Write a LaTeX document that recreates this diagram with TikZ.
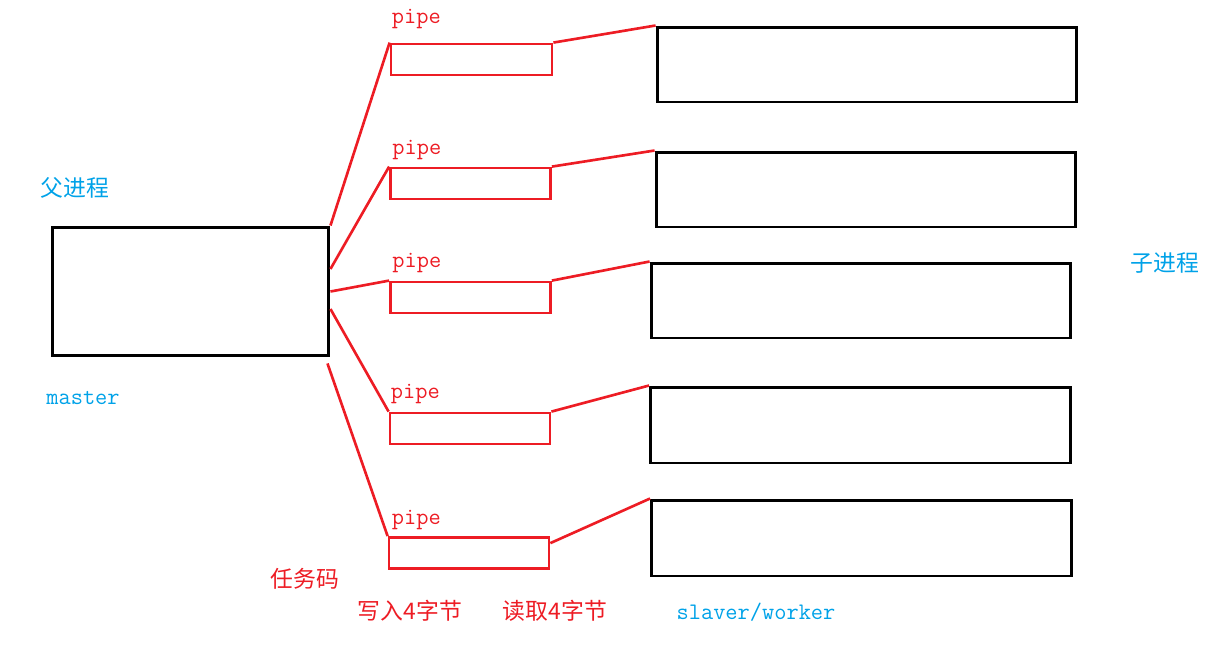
\documentclass[tikz,border=0pt]{standalone}
\usepackage{fontspec}
\newfontfamily\cjkfont{Noto Sans CJK SC}
\usepackage{xcolor}
\usepackage{tikz}
\usetikzlibrary{positioning,calc}
\definecolor{paintred}{RGB}{237,28,36}
\definecolor{paintblue}{RGB}{0,162,232}

\begin{document}
\begin{tikzpicture}[
        x=0.02cm, y=-0.02cm,
        proc/.style={rectangle, draw=black, line width=1.7pt, minimum width=8.4cm, minimum height=1.5cm, inner sep=0pt},
        pipebox/.style={rectangle, draw=paintred, line width=1.6pt, minimum width=3.2cm, minimum height=0.62cm, inner sep=0pt},
        wire/.style={draw=paintred, line width=1.5pt},
        pipelabel/.style={text=paintred, font=\ttfamily\fontsize{13.5}{15}\selectfont, inner sep=0pt},
        redtext/.style={text=paintred, font=\cjkfont\fontsize{13}{15}\selectfont},
        bluetext/.style={text=paintblue, font=\cjkfont\fontsize{13}{15}\selectfont},
        bluemono/.style={text=paintblue, font=\ttfamily\fontsize{13.5}{15}\selectfont}
    ]
    \useasboundingbox (0,0) rectangle (1217,649);

    \node [proc, minimum width=5.54cm, minimum height=2.58cm] (master) at (190.5,291.5) {};

    \node [pipebox, minimum width=3.22cm] (pipe1) at (471.5,59.5) {};
    \node [pipebox] (pipe2) at (470.5,183.5) {};
    \node [pipebox] (pipe3) at (470.5,297.5) {};
    \node [pipebox] (pipe4) at (470,428.5) {};
    \node [pipebox] (pipe5) at (469,553) {};

    \node [proc] (child1) at (867,64.5) {};
    \node [proc] (child2) at (866,189.5) {};
    \node [proc] (child3) at (861,300.5) {};
    \node [proc, minimum height=1.52cm] (child4) at (860.5,425) {};
    \node [proc, minimum height=1.52cm] (child5) at (861.5,538) {};

    \node [pipelabel, above right=0.26cm and 0.04cm of pipe1.north west] (lbl1) {pipe};
    \node [pipelabel, above right=0.12cm and 0.06cm of pipe2.north west] (lbl2) {pipe};
    \node [pipelabel, above right=0.14cm and 0.06cm of pipe3.north west] (lbl3) {pipe};
    \node [pipelabel, above right=0.14cm and 0.04cm of pipe4.north west] (lbl4) {pipe};
    \node [pipelabel, above right=0.12cm and 0.08cm of pipe5.north west] (lbl5) {pipe};

    \node [bluetext] (parent) at (75,188) {父进程};
    \node [bluemono] (mastername) at (83,398) {master};
    \node [bluetext] (children) at (1165,263) {子进程};
    \node [redtext] (taskcode) at (305,579) {任务码};
    \node [redtext] (write) at (410,611) {写入4字节};
    \node [redtext] (read) at (555,611) {读取4字节};
    \node [bluemono] (workername) at (756,612) {slaver/worker};

    \path [wire] (master.north east) -- (pipe1.north west);
    \path [wire] ([yshift=0.45cm]master.east) -- (pipe2.north west);
    \path [wire] (master.east) -- (pipe3.north west);
    \path [wire] ([yshift=-0.35cm]master.east) -- (pipe4.north west);
    \path [wire] ([xshift=-0.06cm,yshift=-0.12cm]master.south east) -- (pipe5.north west);

    \path [wire] (pipe1.north east) -- (child1.north west);
    \path [wire] (pipe2.north east) -- (child2.north west);
    \path [wire] (pipe3.north east) -- (child3.north west);
    \path [wire] (pipe4.north east) -- (child4.north west);
    \path [wire] ([yshift=-0.14cm]pipe5.north east) -- (child5.north west);

\end{tikzpicture}
\end{document}
